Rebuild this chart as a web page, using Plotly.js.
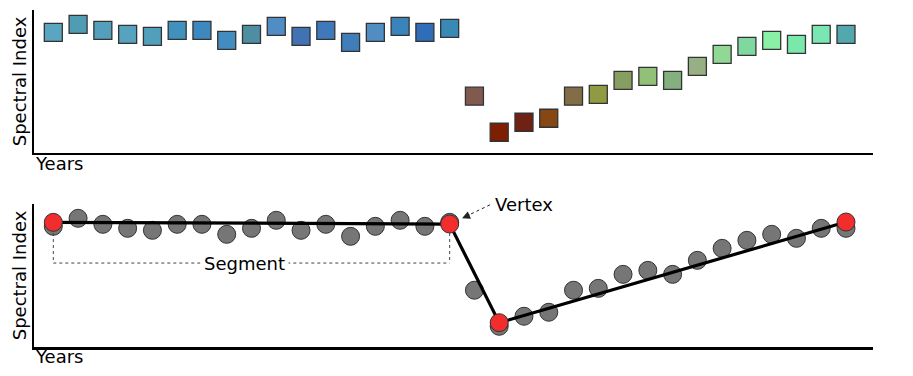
<!DOCTYPE html>
<html>
<head>
<meta charset="utf-8">
<script src="https://cdn.plot.ly/plotly-3.0.1.min.js"></script>
<style>html,body{margin:0;padding:0;background:#fff;}#chart{width:913px;height:376px;}</style>
</head>
<body>
<div id="chart"></div>
<script>
// ---- data ----
const years = [1985,1986,1987,1988,1989,1990,1991,1992,1993,1994,1995,1996,1997,1998,1999,2000,2001,
               2002,2003,2004,2005,2006,2007,2008,2009,2010,2011,2012,2013,2014,2015,2016,2017];
const spectralIndex = [0.844,0.900,0.858,0.830,0.816,0.858,0.858,0.788,0.830,0.886,0.816,0.858,0.774,0.844,0.886,0.844,0.872,
                       0.397,0.145,0.215,0.243,0.397,0.410,0.508,0.536,0.508,0.606,0.690,0.746,0.788,0.760,0.830,0.830];
const squareColors = ['#5aa6c2','#509db3','#539fbc','#56a2bf','#519fba','#4191bf','#3d88bf','#438cbf','#4d8ea2',
                      '#4f8dc4','#4172b4','#4079ba','#3f7eb9','#508dc2','#3b84bb','#2f6db9','#3989b6',
                      '#805a4f','#7d1f00','#6f2116','#874715','#826d47','#909b41','#879e62','#91c078','#83b07e',
                      '#97b083','#91d895','#80d8a1','#8af0a6','#7ae8aa','#7ae6b3','#52a8ad'];
const vertexYears = [1985, 2001, 2003, 2017];
const vertexValues = [0.872, 0.860, 0.170, 0.874];
const axisTitle = 'Spectral Index';
const xTitle = 'Years';
const segmentLabel = 'Segment';
const vertexLabel = 'Vertex';

// ---- traces ----
const traces = [
  {x: years, y: spectralIndex, xaxis: 'x', yaxis: 'y', type: 'scatter', mode: 'markers',
   marker: {symbol: 'square', size: 18, color: squareColors, line: {color: '#333', width: 1.3}},
   showlegend: false},
  {x: years, y: spectralIndex, xaxis: 'x2', yaxis: 'y2', type: 'scatter', mode: 'markers',
   marker: {symbol: 'circle', size: 18, color: '#767676', line: {color: '#333', width: 1}},
   showlegend: false},
  {x: vertexYears, y: vertexValues, xaxis: 'x2', yaxis: 'y2', type: 'scatter', mode: 'lines',
   line: {color: '#000', width: 3.2}, showlegend: false},
  {x: vertexYears, y: vertexValues, xaxis: 'x2', yaxis: 'y2', type: 'scatter', mode: 'markers',
   marker: {symbol: 'circle', size: 18, color: '#f22d2d', line: {color: '#333', width: 1}},
   showlegend: false}
];

const font = {family: 'DejaVu Sans, Verdana, sans-serif', size: 18, color: '#000'};
const xr = [1984.22, 2018.09];
const axBase = {showgrid: false, zeroline: false, showticklabels: false, ticks: '',
                showline: true, linecolor: '#000', linewidth: 2.5};
const bracketLevel = 0.587, bracketTop = 0.797;
const v2 = vertexYears[1], v2y = vertexValues[1];
const yPx = 1 / 143, xPx = 1 / 24.77;

const layout = {
  width: 913, height: 376,
  margin: {l: 34, r: 40, t: 10, b: 29},
  paper_bgcolor: '#fff', plot_bgcolor: '#fff',
  font: font,
  showlegend: false,
  xaxis: Object.assign({}, axBase, {domain: [0, 1], range: xr, anchor: 'y'}),
  yaxis: Object.assign({}, axBase, {domain: [0.5757, 1], range: [0, 1], anchor: 'x',
          title: {text: axisTitle, font: font, standoff: 0}}),
  xaxis2: Object.assign({}, axBase, {domain: [0, 1], range: xr, anchor: 'y2'}),
  yaxis2: Object.assign({}, axBase, {domain: [0, 0.4243], range: [0, 1], anchor: 'x2',
          title: {text: axisTitle, font: font, standoff: 0}}),
  shapes: [
    {type: 'line', xref: 'x2', yref: 'y2', x0: vertexYears[0], x1: vertexYears[0], y0: bracketTop, y1: bracketLevel,
     line: {color: '#444', width: 1, dash: 'dot'}},
    {type: 'line', xref: 'x2', yref: 'y2', x0: v2, x1: v2, y0: bracketTop, y1: bracketLevel,
     line: {color: '#444', width: 1, dash: 'dot'}},
    {type: 'line', xref: 'x2', yref: 'y2', x0: vertexYears[0], x1: v2, y0: bracketLevel, y1: bracketLevel,
     line: {color: '#444', width: 1, dash: 'dot'}},
    {type: 'line', xref: 'x2', yref: 'y2', x0: v2 + 16 * xPx, x1: v2 + 44 * xPx, y0: v2y + 7.5 * yPx, y1: v2y + 21 * yPx,
     line: {color: '#222', width: 1, dash: 'dot'}}
  ],
  annotations: [
    {xref: 'paper', yref: 'paper', x: -0.001, y: (347 - 163) / 337, text: xTitle, showarrow: false,
     xanchor: 'left', yanchor: 'middle', font: font},
    {xref: 'paper', yref: 'paper', x: -0.001, y: (347 - 356) / 337, text: xTitle, showarrow: false,
     xanchor: 'left', yanchor: 'middle', font: font},
    {xref: 'x2', yref: 'y2', x: 1992.7, y: bracketLevel, text: segmentLabel, showarrow: false,
     bgcolor: '#fff', borderpad: 3, font: font},
    {xref: 'x2', yref: 'y2', x: v2 + 43 * xPx, y: v2y + 19.5 * yPx, text: vertexLabel, showarrow: false,
     xanchor: 'left', yanchor: 'middle', font: font},
    {xref: 'x2', yref: 'y2', x: v2 + 12.4 * xPx, y: v2y + 5.7 * yPx, text: '', showarrow: true,
     ax: 9, ay: -4, arrowhead: 2, arrowsize: 1.6, arrowwidth: 1, arrowcolor: '#222', standoff: 0}
  ]
};

Plotly.newPlot('chart', traces, layout, {staticPlot: true, displayModeBar: false});
</script>
</body>
</html>
